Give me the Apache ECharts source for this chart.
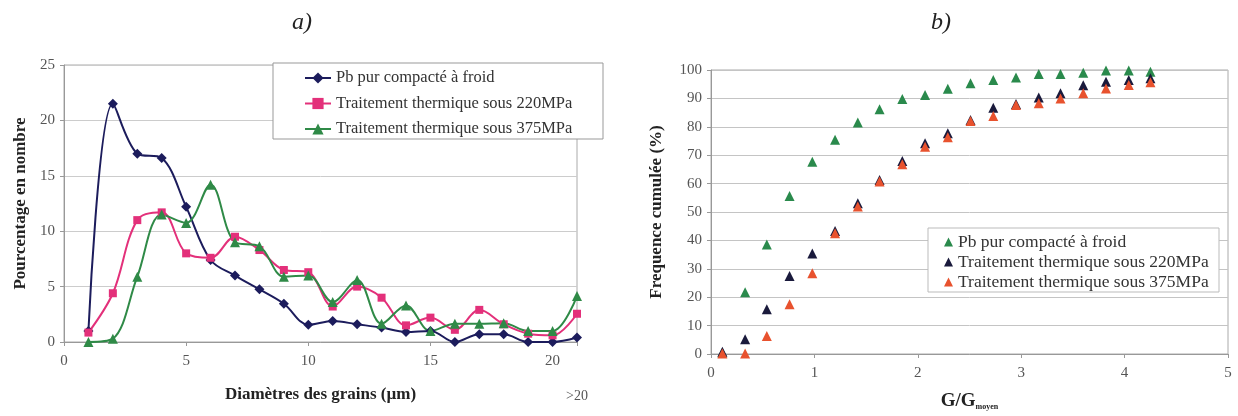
<!DOCTYPE html>
<html>
<head>
<meta charset="utf-8">
<script src="https://cdn.jsdelivr.net/npm/echarts@6/dist/echarts.min.js"></script>
<style>
html,body{margin:0;padding:0;background:#fff;}
#a{position:absolute;left:0;top:0;width:620px;height:416px;}
#b{position:absolute;left:620px;top:0;width:618px;height:416px;}
</style>
</head>
<body>
<div id="a"></div>
<div id="b"></div>
<script>
// ---- Data: chart a) ----
const seriesNames = ['Pb pur compacté à froid', 'Traitement thermique sous 220MPa', 'Traitement thermique sous 375MPa'];
const diameters = [1,2,3,4,5,6,7,8,9,10,11,12,13,14,15,16,17,18,19,20,21];
const pbPur = [1.0, 21.5, 17.0, 16.6, 12.2, 7.4, 6.0, 4.75, 3.45, 1.55, 1.9, 1.6, 1.3, 0.9, 1.0, 0.0, 0.7, 0.7, 0.0, 0.0, 0.4];
const tt220 = [0.85, 4.4, 11.0, 11.7, 8.0, 7.6, 9.5, 8.3, 6.5, 6.3, 3.2, 5.0, 4.0, 1.5, 2.2, 1.1, 2.9, 1.6, 0.75, 0.6, 2.55];
const tt375 = [0.0, 0.3, 5.9, 11.5, 10.75, 14.2, 9.0, 8.65, 5.9, 6.0, 3.6, 5.6, 1.65, 3.3, 1.0, 1.65, 1.65, 1.7, 1.0, 1.0, 4.15];
const lastBinLabel = '>20';

// ---- Data: chart b) ----
const gRatio = [0.11, 0.33, 0.54, 0.76, 0.98, 1.20, 1.42, 1.63, 1.85, 2.07, 2.29, 2.51, 2.73, 2.95, 3.17, 3.38, 3.60, 3.82, 4.04, 4.25];
const cumPb = [0.5, 21.7, 38.6, 55.6, 67.7, 75.4, 81.5, 86.2, 89.8, 91.2, 93.4, 95.3, 96.5, 97.4, 98.6, 98.6, 99.0, 99.8, 99.8, 99.4];
const cum220 = [0.8, 5.2, 15.8, 27.5, 35.4, 43.3, 53.1, 61.3, 68.0, 74.2, 77.7, 82.4, 86.7, 88.0, 90.3, 91.8, 94.6, 95.9, 96.5, 97.1];
const cum375 = [0.2, 0.2, 6.3, 17.5, 28.4, 42.5, 51.9, 60.7, 66.8, 73.0, 76.3, 82.0, 83.8, 87.7, 88.3, 90.0, 91.8, 93.5, 94.7, 95.7];

const FONT = "'Liberation Serif', 'DejaVu Serif', serif";
const pairs = (xs, ys) => xs.map((x, i) => [x, ys[i]]);

// ---------- Chart a ----------
const ca = echarts.init(document.getElementById('a'));
const colA = ['#1c1c5c', '#e3307a', '#2f8a47'];
const symA = ['diamond', 'rect', 'triangle'];
const sizeA = [10, 8, 10];
const valsA = [pbPur, tt220, tt375];
ca.setOption({
  animation: false,
  textStyle: {fontFamily: FONT},
  title: {text: 'a)', left: 287, top: 6, textStyle: {fontFamily: FONT, fontStyle: 'italic', fontWeight: 'normal', fontSize: 24, color: '#222'}},
  grid: {left: 64, top: 65, width: 513, height: 277, show: true, borderColor: '#aaa', borderWidth: 1, backgroundColor: '#fff'},
  xAxis: {
    type: 'value', min: 0, max: 21, interval: 5,
    axisLine: {show: true, lineStyle: {color: '#999'}},
    axisTick: {show: true, length: 4, lineStyle: {color: '#999'}},
    splitLine: {show: false},
    axisLabel: {fontFamily: FONT, fontSize: 15, color: '#555', margin: 12, formatter: v => (v % 5 === 0 ? String(v) : '')},
    name: 'Diamètres des grains (µm)', nameLocation: 'middle', nameGap: 44,
    nameTextStyle: {fontFamily: FONT, fontWeight: 'bold', fontSize: 17, color: '#222'}
  },
  yAxis: {
    type: 'value', min: 0, max: 25, interval: 5,
    axisLine: {show: true, lineStyle: {color: '#999'}},
    axisTick: {show: true, length: 4, lineStyle: {color: '#999'}},
    splitLine: {show: true, lineStyle: {color: '#ccc'}},
    axisLabel: {fontFamily: FONT, fontSize: 15, color: '#555', margin: 9},
    name: 'Pourcentage en nombre', nameLocation: 'middle', nameGap: 35,
    nameTextStyle: {fontFamily: FONT, fontWeight: 'bold', fontSize: 17, color: '#222'}
  },
  legend: {
    orient: 'vertical', left: 304, top: 69, z: 10,
    itemWidth: 26, itemHeight: 14, itemGap: 7.5, padding: 0,
    textStyle: {fontFamily: FONT, fontSize: 16.5, lineHeight: 18, color: '#333'},
    data: seriesNames
  },
  graphic: [
    {type: 'rect', z: 8, shape: {x: 273, y: 63, width: 330, height: 76}, style: {fill: '#fff', stroke: '#999', lineWidth: 1}},
    {type: 'text', x: 577, y: 396, style: {text: lastBinLabel, font: "14px 'Liberation Serif'", fill: '#555', align: 'center', verticalAlign: 'middle'}}
  ],
  series: valsA.map((v, i) => ({
    name: seriesNames[i], type: 'line', smooth: 0.35,
    data: pairs(diameters, v),
    symbol: symA[i], symbolSize: sizeA[i],
    itemStyle: {color: colA[i]}, lineStyle: {color: colA[i], width: 2}
  }))
});

// ---------- Chart b ----------
const cb = echarts.init(document.getElementById('b'));
const colB = ['#2a8a4c', '#1a1a3c', '#e8522e'];
const valsB = [cumPb, cum220, cum375];
cb.setOption({
  animation: false,
  textStyle: {fontFamily: FONT},
  title: {text: 'b)', left: 306, top: 6, textStyle: {fontFamily: FONT, fontStyle: 'italic', fontWeight: 'normal', fontSize: 24, color: '#222'}},
  grid: {left: 91, top: 70, width: 517, height: 284, show: true, borderColor: '#aaa', borderWidth: 1},
  xAxis: {
    type: 'value', min: 0, max: 5, interval: 1,
    axisLine: {show: true, lineStyle: {color: '#999'}},
    axisTick: {show: true, length: 4, inside: false, lineStyle: {color: '#999'}},
    splitLine: {show: false},
    axisLabel: {fontFamily: FONT, fontSize: 15, color: '#555', margin: 12},
    name: '{a|G/G}{b|moyen}', nameLocation: 'middle', nameGap: 38,
    nameTextStyle: {rich: {
      a: {fontFamily: FONT, fontWeight: 'bold', fontSize: 19, color: '#222'},
      b: {fontFamily: FONT, fontWeight: 'bold', fontSize: 8, color: '#222', verticalAlign: 'bottom', padding: [7, 0, 0, 0]}
    }}
  },
  yAxis: {
    type: 'value', min: 0, max: 100, interval: 10,
    axisLine: {show: true, lineStyle: {color: '#999'}},
    axisTick: {show: true, length: 4, lineStyle: {color: '#999'}},
    splitLine: {show: true, lineStyle: {color: '#c4c4c4'}},
    axisLabel: {fontFamily: FONT, fontSize: 15, color: '#555', margin: 9},
    name: 'Frequence cumulée (%)', nameLocation: 'middle', nameGap: 46,
    nameTextStyle: {fontFamily: FONT, fontWeight: 'bold', fontSize: 17, color: '#222'}
  },
  legend: {
    orient: 'vertical', left: 324, top: 232, z: 10,
    icon: 'triangle', itemWidth: 9, itemHeight: 9, itemGap: 0, padding: 0,
    textStyle: {fontFamily: FONT, fontSize: 17.5, lineHeight: 20, color: '#333'},
    data: seriesNames
  },
  graphic: [
    {type: 'rect', z: 8, shape: {x: 308, y: 228, width: 291, height: 64}, style: {fill: '#fff', stroke: '#bbb', lineWidth: 1}}
  ],
  series: valsB.map((v, i) => ({
    name: seriesNames[i], type: 'scatter',
    data: pairs(gRatio, v),
    symbol: 'triangle', symbolSize: 10,
    itemStyle: {color: colB[i], opacity: 1}
  }))
});
</script>
</body>
</html>
